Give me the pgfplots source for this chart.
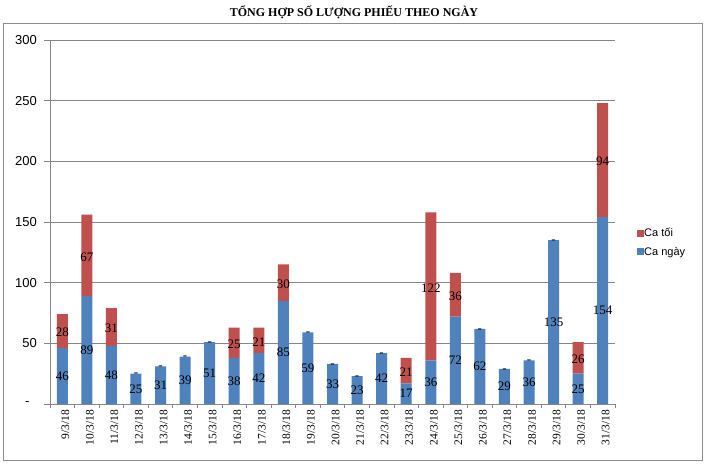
\documentclass[border=0pt]{standalone}
\usepackage{pgfplots}
\pgfplotsset{compat=1.18}
\usepackage{pgfplotstable}
\usepackage{fontspec}
\setmainfont{Liberation Serif}
\newfontfamily\sansf{Liberation Sans}
\definecolor{cblue}{HTML}{4F81BD}
\definecolor{cred}{HTML}{C0504D}
\definecolor{cgrid}{HTML}{878787}
\definecolor{cframe}{HTML}{8C8C8C}

\pgfplotstableread{
x day night nl
0 46 28 28
1 89 67 67
2 48 31 31
3 25 0 -
4 31 0 -
5 39 0 -
6 51 0 -
7 38 25 25
8 42 21 21
9 85 30 30
10 59 0 -
11 33 0 -
12 23 0 -
13 42 0 -
14 17 21 21
15 36 122 122
16 72 36 36
17 62 0 -
18 29 0 -
19 36 0 -
20 135 0 -
21 25 26 26
22 154 94 94
}\data

\pgfplotsset{
  base/.style={
    scale only axis, width=565bp, height=364bp,
    xmin=-0.5, xmax=22.5, ymin=0, ymax=300,
    at={(50bp,62bp)}, anchor=south west,
  },
  lbl/.style={draw=none, mark=none, nodes near coords, point meta=explicit symbolic,
    every node near coord/.append style={anchor=center, inner sep=0pt, text=black,
      font=\fontsize{13bp}{15bp}\selectfont}},
}

\begin{document}
\begin{tikzpicture}
\path[use as bounding box] (0,0) rectangle (705bp,466bp);
\draw[cframe, line width=1bp] (3bp,5bp) rectangle (702bp,442bp);
\node[font=\bfseries\fontsize{12bp}{14bp}\selectfont] at (354bp,454bp) {TỔNG HỢP SỐ LƯỢNG PHIẾU THEO NGÀY};

\begin{axis}[base,
  ybar stacked, bar width=11bp,
  axis lines*=left,
  axis line style={cgrid, line width=0.8bp},
  ytick={0,50,...,300},
  yticklabels={-\hphantom{0},50,100,150,200,250,300},
  ymajorgrids, grid style={cgrid, line width=0.8bp},
  xtick={0,...,22},
  xticklabels={9/3/18,10/3/18,11/3/18,12/3/18,13/3/18,14/3/18,15/3/18,16/3/18,17/3/18,18/3/18,19/3/18,20/3/18,21/3/18,22/3/18,23/3/18,24/3/18,25/3/18,26/3/18,27/3/18,28/3/18,29/3/18,30/3/18,31/3/18},
  minor xtick={-0.5,0.5,...,22.5},
  tick align=outside, major tick length=6bp, minor tick length=4bp,
  tick style={cgrid, line width=0.8bp},
  major x tick style={draw=none},
  yticklabel style={font=\sansf\fontsize{13bp}{15bp}\selectfont, inner sep=0pt, xshift=-7bp},
  xticklabel style={rotate=90, anchor=east, inner sep=0pt, yshift=-3bp, font=\fontsize{11.5bp}{13bp}\selectfont},
  reverse legend,
  legend style={at={(1.039,0.4437)}, anchor=west, draw=none, fill=none,
    font=\sansf\fontsize{11bp}{13bp}\selectfont, inner sep=0pt, row sep=9bp,
    nodes={inner sep=0pt},
    /tikz/every even column/.append style={column sep=5bp}},
  legend cell align=left,
]
\addplot[fill=cblue, draw=none, legend image code/.code={\fill[cblue] (0bp,-3.5bp) rectangle (7bp,3.5bp);}] table[x=x,y=day]{\data};
\addlegendentry{Ca ngày}
\addplot[fill=cred, draw=none, legend image code/.code={\fill[cred] (0bp,-3.5bp) rectangle (7bp,3.5bp);}] table[x=x,y=night]{\data};
\addlegendentry{Ca tối}
\end{axis}

\begin{axis}[base, hide axis, clip=false]
\addplot[lbl] table[x=x, y expr=\thisrow{day}/2, meta=day]{\data};
\addplot[lbl, every node near coord/.append style={yshift=-1.5bp}] table[x=x, y expr=\thisrow{day}+\thisrow{night}/2, meta=nl]{\data};
\end{axis}
\end{tikzpicture}
\end{document}
